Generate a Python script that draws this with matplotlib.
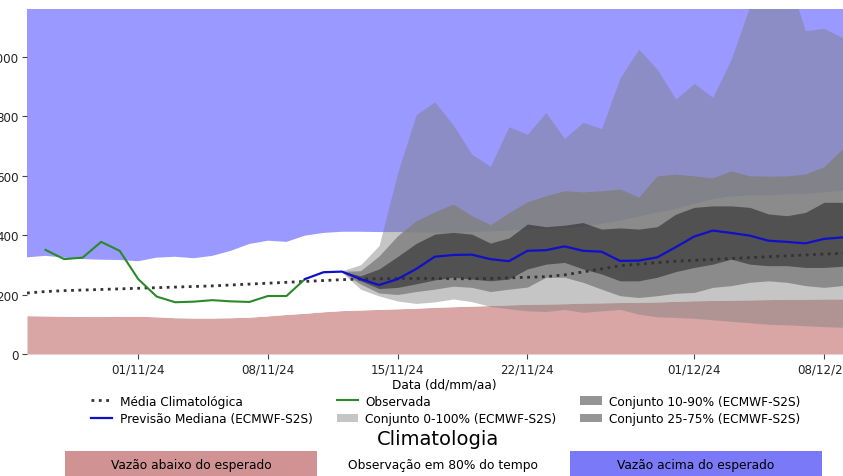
import numpy as np
import pandas as pd
import matplotlib
matplotlib.use("Agg")
import matplotlib.pyplot as plt
import matplotlib.dates as mdates

plt.rcParams['font.family'] = ['DejaVu Sans']

# --- climatologia diaria (26/10 a 10/12) ---
clim_dates = pd.date_range('2024-10-26', '2024-12-10', freq='D')
clim_p10 = [129, 128, 127, 126, 126, 127, 127, 125, 122, 121, 121, 122, 124, 128, 133, 137,
            142, 146, 148, 150, 152, 154, 157, 159, 161, 163, 165, 167, 168, 169, 171, 172,
            173, 174, 175, 177, 179, 180, 181, 182, 183, 184, 184, 185, 185, 185]
clim_p90 = [325, 330, 324, 319, 317, 316, 312, 324, 327, 322, 330, 347, 370, 381, 377, 398,
            407, 411, 411, 410, 410, 409, 408, 408, 410, 412, 415, 418, 421, 424, 428, 437,
            448, 462, 476, 487, 505, 520, 530, 533, 533, 537, 538, 543, 549, 550]
clim_med = [205, 210, 213, 215, 217, 219, 221, 223, 225, 227, 229, 232, 235, 238, 241, 244,
            247, 250, 252, 253, 254, 254, 254, 253, 253, 254, 256, 258, 260, 266, 276, 286,
            297, 302, 307, 312, 315, 318, 321, 324, 327, 330, 333, 336, 338, 339]

# --- vazao observada ---
obs_dates = pd.date_range('2024-10-27', '2024-11-10', freq='D')
obs_vals = [350, 319, 324, 377, 347, 252, 193, 174, 176, 181, 177, 175, 195, 195, 252]

# --- previsao mediana ---
fc_dates = pd.date_range('2024-11-10', '2024-12-09', freq='D')
fc_median = [252, 275, 277, 252, 232, 252, 286, 327, 333, 334, 319, 312, 347, 349, 362,
             347, 344, 313, 314, 325, 359, 395, 415, 407, 398, 381, 377, 372, 387, 392]

# --- conjunto ECMWF-S2S ---
ens_dates = pd.date_range('2024-11-12', '2024-12-09', freq='D')
ens_max = [280, 300, 365, 610, 805, 848, 770, 672, 631, 764, 739, 812, 725, 779, 758, 928,
           1025, 958, 857, 910, 863, 992, 1170, 1250, 1280, 1087, 1095, 1064]
ens_p90 = [278, 280, 330, 398, 448, 478, 504, 465, 435, 475, 512, 532, 549, 545, 549, 555,
           527, 599, 605, 599, 592, 616, 599, 598, 599, 605, 630, 689]
ens_p75 = [278, 263, 286, 328, 372, 403, 409, 403, 373, 390, 437, 428, 433, 442, 420, 424,
           420, 428, 470, 493, 498, 498, 493, 471, 465, 476, 510, 510]
ens_p25 = [276, 246, 220, 224, 236, 249, 258, 252, 246, 252, 286, 302, 308, 286, 269, 246,
           246, 258, 277, 291, 302, 319, 302, 297, 297, 291, 291, 295]
ens_p10 = [275, 235, 205, 200, 210, 218, 228, 224, 210, 218, 225, 258, 258, 241, 218, 196,
           190, 196, 204, 207, 224, 230, 241, 246, 241, 230, 224, 230]
ens_min = [274, 218, 195, 178, 170, 175, 185, 176, 160, 152, 145, 143, 150, 140, 145, 150,
           134, 125, 123, 120, 115, 110, 105, 100, 98, 95, 92, 90]

tick_dates = pd.to_datetime(['2024-11-01', '2024-11-08', '2024-11-15', '2024-11-22',
                             '2024-12-01', '2024-12-08'])
y_top = 1160

W, H = 843, 477
fig = plt.figure(figsize=(W / 100, H / 100), dpi=100)
ax = fig.add_axes([27 / W, (H - 355) / H, (861 - 27) / W, 345 / H])

# faixas climatologicas
ax.fill_between(clim_dates, 0, clim_p10, color='#d9a5a5', lw=0, zorder=1)
ax.fill_between(clim_dates, clim_p10, clim_p90, color='white', lw=0, zorder=1)
ax.fill_between(clim_dates, clim_p90, y_top * 2, color='#9999ff', lw=0, zorder=1)

# conjunto
ax.fill_between(ens_dates, ens_min, ens_max, color='grey', alpha=0.45, lw=0, zorder=2,
                label='Conjunto 0-100% (ECMWF-S2S)')
ax.fill_between(ens_dates, ens_p10, ens_p90, color='grey', alpha=0.83, lw=0, zorder=3,
                label='Conjunto 10-90% (ECMWF-S2S)')
ax.fill_between(ens_dates, ens_p25, ens_p75, color='black', alpha=0.41, lw=0, zorder=4,
                label='Conjunto 25-75% (ECMWF-S2S)')

ax.plot(clim_dates, clim_med, ls=':', color='#333333', lw=2, zorder=5,
        label='Média Climatológica')
ax.plot(obs_dates, obs_vals, color='#2a8a2a', lw=1.5, zorder=6, label='Observada')
ax.plot(fc_dates, fc_median, color='#1010c8', lw=1.6, zorder=6,
        label='Previsão Mediana (ECMWF-S2S)')

ax.set_xlim(clim_dates[0], pd.Timestamp('2024-12-10'))
ax.set_ylim(0, y_top)
ax.set_yticks(np.arange(0, 1001, 200))
ax.set_xticks(tick_dates)
ax.xaxis.set_major_formatter(mdates.DateFormatter('%d/%m/%y'))
for s in ax.spines.values():
    s.set_visible(False)
ax.tick_params(colors='#444444', labelcolor='#222222', labelsize=8.6, pad=2.5)
ax.set_xlabel('Data (dd/mm/aa)', fontsize=8.7, labelpad=1.5)

handles, labels = ax.get_legend_handles_labels()
order = ['Média Climatológica', 'Previsão Mediana (ECMWF-S2S)', 'Observada',
         'Conjunto 0-100% (ECMWF-S2S)', 'Conjunto 10-90% (ECMWF-S2S)',
         'Conjunto 25-75% (ECMWF-S2S)']
hmap = dict(zip(labels, handles))
ax.legend([hmap[k] for k in order], order, ncol=3, frameon=False, fontsize=8.7,
          loc='upper center', bbox_to_anchor=(0.502, -0.093), columnspacing=2.0,
          handlelength=1.75, handletextpad=0.6, labelspacing=0.4, borderpad=0.2)

# barra "Climatologia"
bar_labels = ['Vazão abaixo do esperado', 'Observação em 80% do tempo', 'Vazão acima do esperado']
bar_colors = ['#d09292', 'white', '#7a7af8']
bax = fig.add_axes([65 / W, (H - 480) / H, (822 - 65) / W, 28.5 / H])
bax.barh(0, [1, 1, 1], left=[0, 1, 2], height=1, color=bar_colors)
for i, t in enumerate(bar_labels):
    bax.text(i + 0.5, 0, t, ha='center', va='center', fontsize=8.8)
bax.set_xlim(0, 3)
bax.set_ylim(-0.5, 0.5)
bax.axis('off')
fig.text(0.52, (H - 440) / H, 'Climatologia', ha='center', va='center', fontsize=14)

fig.savefig('out.png', dpi=100)
